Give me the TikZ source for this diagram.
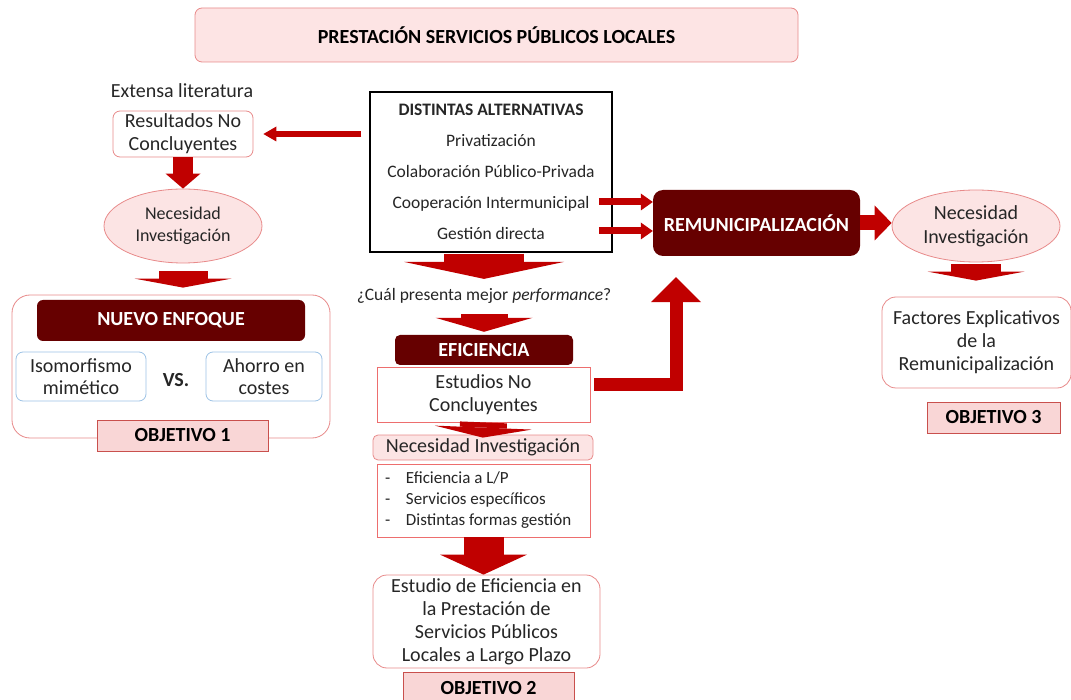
\documentclass[tikz,border=0pt]{standalone}
\usepackage{fontspec}
\setmainfont{Carlito}
\usetikzlibrary{shapes.geometric, arrows.meta}

\definecolor{cArrow}{HTML}{C00000}
\definecolor{cDark}{HTML}{660000}
\definecolor{cPink}{HTML}{FCE4E4}
\definecolor{cTitle}{HTML}{FDE4E4}
\definecolor{cLine}{HTML}{E88A8A}
\definecolor{cObj}{HTML}{F9D6D6}
\definecolor{cObjLine}{HTML}{C9504D}
\definecolor{cBlue}{HTML}{9DC3E6}
\definecolor{cText}{HTML}{262626}

\begin{document}
\begin{tikzpicture}[x=1pt, y=-1pt, text=cText,
    softbox/.style={draw=cLine, fill=white, rounded corners=7pt, line width=0.8pt,
        align=center, inner sep=0pt, font=\fontsize{20}{23}\selectfont},
    redbox/.style={draw=cLine!80!red, fill=white, line width=0.8pt,
        align=center, inner sep=0pt, font=\fontsize{20}{23}\selectfont},
    bluebox/.style={draw=cBlue, fill=white, rounded corners=7pt, line width=0.8pt,
        align=center, inner sep=0pt, font=\fontsize{20}{22}\selectfont},
    bubble/.style={ellipse, draw=cLine, fill=cPink, line width=0.8pt,
        align=center, inner sep=0pt, font=\fontsize{18}{22}\selectfont},
    darkbox/.style={fill=cDark, rounded corners=6pt, text=white, inner sep=0pt,
        font=\bfseries\fontsize{20}{23}\selectfont},
    objbox/.style={draw=cObjLine, fill=cObj, line width=0.9pt, inner sep=0pt,
        minimum height=31pt, text=black, font=\bfseries\fontsize{20}{23}\selectfont},
    blockarrow/.style n args={3}{draw=cArrow, line width=#1,
        -{Triangle[width=#2, length=#3, line width=0pt]}},
]
\useasboundingbox (0,0) rectangle (1071,700);

% Title
\node[draw=cLine, fill=cTitle, rounded corners=7pt, line width=0.8pt, text=black,
    font=\bfseries\fontsize{20}{23}\selectfont, minimum width=603pt, minimum height=54pt]
    (title) at (496.5,35) {PRESTACIÓN SERVICIOS PÚBLICOS LOCALES};

% Left branch: nuevo enfoque
\node[font=\fontsize{20}{23}\selectfont] (lit) at (182,91) {Extensa literatura};
\node[softbox, minimum width=140pt, minimum height=46pt] (res) at (183,134) {Resultados No\\Concluyentes};
\node[bubble, minimum width=158pt, minimum height=74pt] (nec1) at (183,226) {Necesidad\\Investigación};
\node[softbox, rounded corners=18pt, minimum width=318pt, minimum height=143pt] (enf) at (171,366.5) {};
\node[darkbox, minimum width=268pt, minimum height=41pt] (nuevo) at (171,320.5) {NUEVO ENFOQUE};
\node[bluebox, minimum width=130pt, minimum height=49pt] (iso) at (81,376.5) {Isomorfismo\\mimético};
\node[font=\bfseries\fontsize{20}{23}\selectfont] (vs) at (176,380) {VS.};
\node[bluebox, minimum width=116pt, minimum height=49pt] (aho) at (264,376.5) {Ahorro en\\costes};
\node[objbox, minimum width=171pt] (obj1) at (182.5,435.5) {OBJETIVO 1};

% Middle column: eficiencia
\node[draw=black, line width=1.5pt, fill=white, minimum width=242pt, minimum height=160pt,
    align=center, font=\fontsize{17.5}{31}\selectfont]
    (alt) at (491,172) {\textbf{DISTINTAS ALTERNATIVAS}\\Privatización\\Colaboración Público-Privada\\Cooperación Intermunicipal\\Gestión directa};
\node[font=\fontsize{17.5}{21}\selectfont] (q) at (484,296) {¿Cuál presenta mejor \textit{performance}?};
\node[darkbox, rounded corners=5pt, minimum width=178pt, minimum height=30pt] (efi) at (484,350) {EFICIENCIA};
\node[redbox, minimum width=213pt, minimum height=55pt] (est) at (483.5,394.5) {Estudios No\\Concluyentes};
\node[softbox, fill=cPink, rounded corners=5pt, minimum width=220pt, minimum height=25pt]
    (nec2) at (483,447.5) {Necesidad Investigación};
\node[redbox, minimum width=213pt, minimum height=73pt, text width=197pt, align=flush left,
    font=\fontsize{17}{21}\selectfont] (lst) at (483.5,500.5)
    {\makebox[21pt][l]{-}Eficiencia a L/P\\\makebox[21pt][l]{-}Servicios específicos\\\makebox[21pt][l]{-}Distintas formas gestión};
\node[softbox, rounded corners=14pt, minimum width=227pt, minimum height=93pt]
    (ela) at (486.5,621.5)
    {Estudio de Eficiencia en\\la Prestación de\\Servicios Públicos\\Locales a Largo Plazo};
\node[objbox, minimum width=171pt] (obj2) at (488.5,688) {OBJETIVO 2};

% Right branch: remunicipalizacion
\node[darkbox, rounded corners=10pt, minimum width=207pt, minimum height=66pt] (remun) at (756.5,223) {REMUNICIPALIZACIÓN};
\node[bubble, minimum width=168pt, minimum height=72pt, font=\fontsize{20}{24}\selectfont]
    (nec3) at (976,226) {Necesidad\\Investigación};
\node[softbox, rounded corners=14pt, minimum width=189pt, minimum height=91pt]
    (fac) at (976.5,342.5) {Factores Explicativos\\de la\\Remunicipalización};
\node[objbox, minimum width=133pt] (obj3) at (993.5,417.5) {OBJETIVO 3};

% Arrows
\draw[blockarrow={6pt}{15pt}{13pt}, shorten <=8pt, shorten >=10pt] (alt.west |- res.east) -- (res.east);
\draw[blockarrow={20pt}{35pt}{15pt}] (res.south) -- (nec1.north);
\draw[blockarrow={49pt}{97pt}{9pt}, shorten <=8pt, shorten >=7pt] (nec1.south) -- (nec1.south |- enf.north);
\draw[blockarrow={80pt}{160pt}{17pt}, shorten <=1pt, shorten >=6pt] (alt.south -| q.north) -- (q.north);
\draw[blockarrow={47pt}{97pt}{14pt}, shorten <=7pt, shorten >=3pt] (q.south) -- (efi.north);
\draw[blockarrow={47pt}{97pt}{10pt}, shorten >=-3pt] (est.south) -- (nec2.north);
\draw[blockarrow={40pt}{87pt}{20pt}] (lst.south) -- (lst.south |- ela.north);
\draw[blockarrow={7pt}{17pt}{12pt}] ([shift={(-14,30)}]alt.east) -- ([shift={(0,-21)}]remun.west);
\draw[blockarrow={7pt}{17pt}{12pt}] ([shift={(-14,59)}]alt.east) -- ([shift={(0,8)}]remun.west);
\draw[blockarrow={13pt}{50pt}{25pt}, shorten >=21pt] ([shift={(4,-9.5)}]est.east) -| ([shift={(-80.5,0)}]remun.south);
\draw[blockarrow={15pt}{35pt}{17pt}] (remun.east) -- (remun.east -| nec3.west);
\draw[blockarrow={50pt}{97pt}{9pt}, shorten <=2pt, shorten >=16pt] (nec3.south) -- (nec3.south |- fac.north);
\end{tikzpicture}
\end{document}
